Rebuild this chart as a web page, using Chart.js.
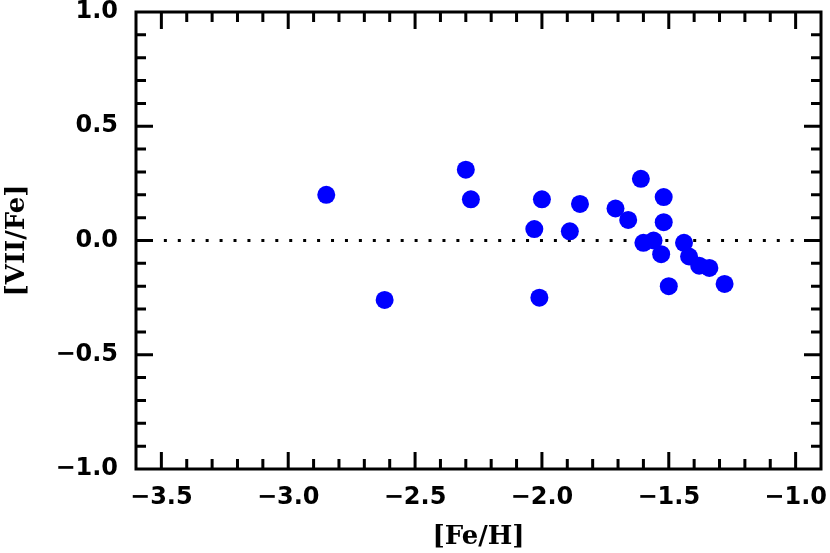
<!DOCTYPE html>
<html>
<head>
<meta charset="utf-8">
<script src="https://cdn.jsdelivr.net/npm/chart.js@4.4.1/dist/chart.umd.min.js"></script>
<style>
  html, body { margin: 0; padding: 0; background: #fff; }
  #chart { display: block; }
</style>
</head>
<body>
<canvas id="chart" width="830" height="553"></canvas>
<script>
// [Fe/H] and [VII/Fe]
const feH = [
  -2.85, -2.62, -2.30, -2.28, -2.03, -2.00, -2.01, -1.89, -1.85, -1.71,
  -1.66, -1.61, -1.60, -1.56, -1.52, -1.52, -1.53, -1.44, -1.42, -1.38,
  -1.34, -1.50, -1.28
];
const vFe = [
  0.20, -0.26, 0.31, 0.18, 0.05, 0.18, -0.25, 0.04, 0.16, 0.14,
  0.09, 0.27, -0.01, 0.00, 0.19, 0.08, -0.06, -0.01, -0.07, -0.11,
  -0.12, -0.20, -0.19
];

// reference line at zero
const zeroX = [-3.6, -0.9];
const zeroY = [0, 0];

// axis ticks
const xTicks = [-3.5, -3.0, -2.5, -2.0, -1.5, -1.0];
const yTicks = [-1.0, -0.5, 0.0, 0.5, 1.0];
const xRange = [-3.6, -0.9];
const yRange = [-1.0, 1.0];
const minorStep = 0.1;

const tickFont = { family: "DejaVu Sans", size: 24, weight: "bold" };
const titleFont = { family: "DejaVu Serif", size: 26, weight: "bold" };

function fmt(v) {
  return v.toFixed(1).replace("-", "\u2212");
}

// frame with inward ticks on all four sides
const framePlugin = {
  id: "frame",
  afterDraw(chart) {
    const ctx = chart.ctx;
    const { left, right, top, bottom } = chart.chartArea;
    const xs = chart.scales.x;
    const ys = chart.scales.y;
    ctx.save();
    ctx.strokeStyle = "#000";
    ctx.lineWidth = 3;
    ctx.lineCap = "butt";
    ctx.strokeRect(left, top, right - left, bottom - top);

    const isMajor = (list, v) => list.some((t) => Math.abs(t - v) < 1e-6);

    ctx.beginPath();
    const nx = Math.round((xRange[1] - xRange[0]) / minorStep);
    for (let i = 1; i < nx; i++) {
      const v = Math.round((xRange[0] + i * minorStep) * 10) / 10;
      const len = isMajor(xTicks, v) ? 17 : 10;
      const px = xs.getPixelForValue(v);
      ctx.moveTo(px, bottom);
      ctx.lineTo(px, bottom - len);
      ctx.moveTo(px, top);
      ctx.lineTo(px, top + len);
    }
    const ny = Math.round((yRange[1] - yRange[0]) / minorStep);
    for (let i = 1; i < ny; i++) {
      const v = Math.round((yRange[0] + i * minorStep) * 10) / 10;
      const len = isMajor(yTicks, v) ? 17 : 10;
      const py = ys.getPixelForValue(v);
      ctx.moveTo(left, py);
      ctx.lineTo(left + len, py);
      ctx.moveTo(right, py);
      ctx.lineTo(right - len, py);
    }
    ctx.stroke();
    ctx.restore();
  },
};

const ctx = document.getElementById("chart").getContext("2d");

new Chart(ctx, {
  type: "scatter",
  data: {
    datasets: [
      {
        label: "stars",
        data: feH.map((x, i) => ({ x: x, y: vFe[i] })),
        backgroundColor: "#0000ff",
        borderWidth: 0,
        pointRadius: 9,
        pointHoverRadius: 9,
        order: 0,
      },
      {
        type: "line",
        label: "zero",
        data: zeroX.map((x, i) => ({ x: x, y: zeroY[i] })),
        borderColor: "#000",
        borderWidth: 3,
        borderDash: [3, 10.93],
        borderDashOffset: 0,
        pointRadius: 0,
        fill: false,
        order: 1,
      },
    ],
  },
  options: {
    responsive: false,
    animation: false,
    events: [],
    layout: {
      padding: { left: 0, right: 8, top: 12, bottom: 0 },
    },
    plugins: {
      legend: { display: false },
      tooltip: { enabled: false },
    },
    scales: {
      x: {
        type: "linear",
        position: "bottom",
        min: xRange[0],
        max: xRange[1],
        grid: { display: false, drawTicks: false },
        border: { display: false },
        afterBuildTicks: (scale) => {
          scale.ticks = xTicks.map((v) => ({ value: v }));
        },
        afterFit: (scale) => {
          scale.height = 84;
          scale.paddingLeft = 0;
          scale.paddingRight = 0;
        },
        ticks: {
          color: "#000",
          font: tickFont,
          padding: 14,
          maxRotation: 0,
          autoSkip: false,
          callback: (value) => fmt(value),
        },
        title: {
          display: true,
          text: "[Fe/H]",
          color: "#000",
          font: titleFont,
          padding: { top: 0, bottom: 0 },
        },
      },
      y: {
        type: "linear",
        position: "left",
        min: yRange[0],
        max: yRange[1],
        grid: { display: false, drawTicks: false },
        border: { display: false },
        afterBuildTicks: (scale) => {
          scale.ticks = yTicks.map((v) => ({ value: v }));
        },
        afterFit: (scale) => {
          scale.width = 136;
          scale.paddingTop = 0;
          scale.paddingBottom = 0;
        },
        ticks: {
          color: "#000",
          font: tickFont,
          padding: 18,
          autoSkip: false,
          callback: (value) => fmt(value),
        },
        title: {
          display: true,
          text: "[VII/Fe]",
          color: "#000",
          font: titleFont,
          padding: { top: 2, bottom: 0 },
        },
      },
    },
  },
  plugins: [framePlugin],
});
</script>
</body>
</html>
